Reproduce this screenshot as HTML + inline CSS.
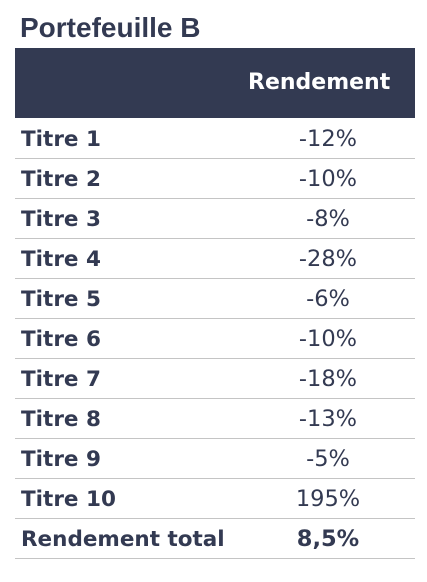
<!DOCTYPE html>
<html><head><meta charset="utf-8"><style>
body{margin:0;width:427px;height:582px;background:#fff;position:relative;overflow:hidden;color:#333a52}
.t{position:absolute;left:20px;top:12px;font:bold 28px "Liberation Sans",sans-serif;white-space:nowrap}
.hd{position:absolute;left:15px;top:48px;width:400px;height:70px;background:#333a52}
.hd span{position:absolute;left:233px;top:22px;color:#fff;font:bold 22px "DejaVu Sans",sans-serif}
.r{position:absolute;left:15px;width:400px;height:40px;border-bottom:1px solid #c4c4c4;box-sizing:border-box}
.r .l{position:absolute;left:6px;top:8px;font:bold 21.5px "DejaVu Sans",sans-serif;white-space:nowrap}
.r .v{position:absolute;left:263px;width:100px;text-align:center;top:7px;font:22.5px "DejaVu Sans",sans-serif}
.r .v.b{font-weight:bold}
</style></head><body>
<div class="t">Portefeuille B</div>
<div class="hd"><span>Rendement</span></div>
<div id="rows"></div>
<script>
const labels=["Titre 1","Titre 2","Titre 3","Titre 4","Titre 5","Titre 6","Titre 7","Titre 8","Titre 9","Titre 10","Rendement total"];
const values=["-12%","-10%","-8%","-28%","-6%","-10%","-18%","-13%","-5%","195%","8,5%"];
const c=document.getElementById('rows');
labels.forEach((lab,i)=>{
 const r=document.createElement('div');r.className='r';r.style.top=(119+i*40)+'px';
 
 
 const l=document.createElement('div');l.className='l';l.textContent=lab;
 
 
 const v=document.createElement('div');v.className='v'+(i===labels.length-1?' b':'');v.textContent=values[i];
 
 
 r.appendChild(l);r.appendChild(v);c.appendChild(r);
});
</script>
</body></html>
